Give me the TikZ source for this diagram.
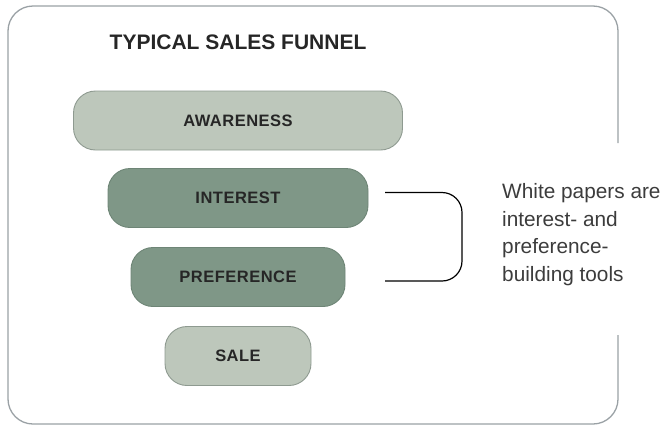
\documentclass[tikz,border=0pt]{standalone}
\usepackage{fontspec}
\setmainfont{Liberation Sans}
\usepackage{tikz}
\usetikzlibrary{positioning,calc}

\definecolor{framegray}{HTML}{9AA1A5}
\definecolor{lightfill}{HTML}{BDC7BB}
\definecolor{lightedge}{HTML}{8E9A90}
\definecolor{darkfill}{HTML}{7F9787}
\definecolor{darkedge}{HTML}{6E8576}
\definecolor{labelink}{HTML}{262626}
\definecolor{noteink}{HTML}{3C3C3C}

\tikzset{
    stage/.style={draw=#1edge, fill=#1fill, line width=0.9pt, rounded corners=22pt,
        minimum height=59pt, inner sep=0pt, text=labelink,
        font=\bfseries\fontsize{16.5}{19}\selectfont\addfontfeature{LetterSpace=3}},
    bracketline/.style={line width=1.2pt, rounded corners=20pt}
}

\begin{document}
\begin{tikzpicture}[x=1pt, y=-1pt]
    \useasboundingbox (0,0) rectangle (671,426);

    % Outer frame, open on the right where the note sits
    \draw[framegray, line width=1.3pt, rounded corners=25pt]
        (618,143) -- (618,6) -- (8,6) -- (8,424) -- (618,424) -- (618,335);

    % Title
    \node[anchor=west, inner sep=0pt, text=labelink, font=\bfseries\fontsize{21}{25}\selectfont]
        (title) at (109.5,42.5) {TYPICAL SALES FUNNEL};

    % Funnel stages
    \foreach \name/\lbl/\boxw/\yy/\tone in {aware/AWARENESS/329/120.5/light, interest/INTEREST/260/198/dark,
        pref/PREFERENCE/214/277/dark, sale/SALE/146/356/light}
        \node[stage=\tone, minimum width=\boxw pt] (\name) at (238,\yy) {\lbl};

    % Bracket round interest and preference
    \coordinate (bt) at (385,192.5);
    \coordinate (bb) at (385,281);
    \draw[bracketline] (bt) -- (462,192.5) |- (bb);

    % Note
    \node[anchor=north west, inner sep=0pt, align=left, text=noteink,
        font=\fontsize{20.8}{27.8}\selectfont] (note) at (502,183)
        {White papers are\\interest- and\\preference-\\building tools};
\end{tikzpicture}
\end{document}
